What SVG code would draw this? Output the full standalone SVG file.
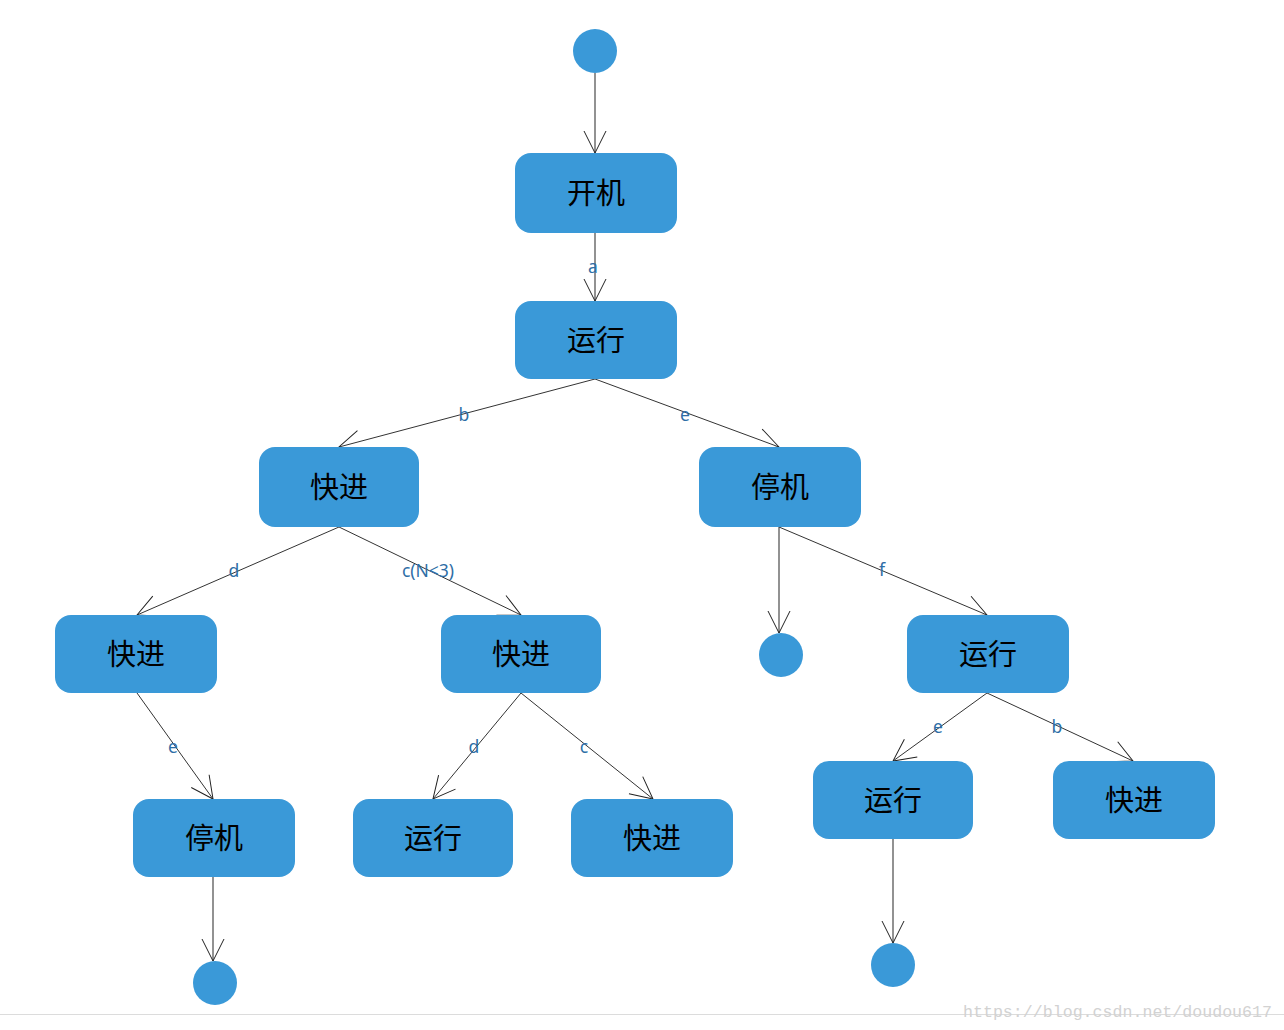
<svg xmlns="http://www.w3.org/2000/svg" width="1284" height="1030" viewBox="0 0 1284 1030">
<defs>
<style>
.n{fill:#3a99d8}
.t{font-family:"Noto Sans CJK SC","Noto Sans",sans-serif;font-size:29px;fill:#000;text-anchor:middle;dominant-baseline:central}
.e{stroke:#333;stroke-width:1;fill:none;marker-end:url(#ah)}
.v{stroke:#777;stroke-width:1.6;fill:none;marker-end:url(#ah)}
.l{font-family:"Noto Sans","DejaVu Sans",sans-serif;font-size:17.5px;fill:#2e6ea6;text-anchor:middle}
</style>
<marker id="ah" markerUnits="userSpaceOnUse" markerWidth="30" markerHeight="30" refX="22" refY="11" orient="auto" overflow="visible">
<path d="M0,0 L22,11 L0,22" fill="none" stroke="#222" stroke-width="1"/>
</marker>
</defs>
<rect width="1284" height="1030" fill="#fff"/>
<g id="connectors">
<line class="v" x1="595" y1="73" x2="595" y2="153"/>
<line class="v" x1="595" y1="233" x2="595" y2="301"/>
<line class="e" x1="595" y1="379" x2="339" y2="447"/>
<line class="e" x1="595" y1="379" x2="779" y2="447"/>
<line class="e" x1="339" y1="527" x2="137" y2="615"/>
<line class="e" x1="339" y1="527" x2="521" y2="615"/>
<line class="v" x1="779" y1="527" x2="779" y2="633"/>
<line class="e" x1="779" y1="527" x2="987" y2="615"/>
<line class="e" x1="137" y1="693" x2="213" y2="799"/>
<line class="e" x1="521" y1="693" x2="433" y2="799"/>
<line class="e" x1="521" y1="693" x2="653" y2="799"/>
<line class="e" x1="987" y1="693" x2="893" y2="761"/>
<line class="e" x1="987" y1="693" x2="1133" y2="761"/>
<line class="v" x1="893" y1="839" x2="893" y2="943"/>
<line class="v" x1="213" y1="877" x2="213" y2="961"/>
<text class="l" x="593" y="273">a</text>
<text class="l" x="464" y="421">b</text>
<text class="l" x="685" y="421">e</text>
<text class="l" x="234" y="577">d</text>
<text class="l" x="428" y="577">c(N&lt;3)</text>
<text class="l" x="882" y="576">f</text>
<text class="l" x="173" y="753">e</text>
<text class="l" x="474" y="753">d</text>
<text class="l" x="584" y="753">c</text>
<text class="l" x="938" y="733">e</text>
<text class="l" x="1057" y="733">b</text>
</g>
<g id="start"><circle class="n" cx="595" cy="51" r="22"/></g>
<g id="kaiji"><rect class="n" x="515" y="153" width="162" height="80" rx="16"/><text class="t" x="596" y="191">开机</text></g>
<g id="yunxing1"><rect class="n" x="515" y="301" width="162" height="78" rx="16"/><text class="t" x="596" y="338">运行</text></g>
<g id="kuaijin1"><rect class="n" x="259" y="447" width="160" height="80" rx="16"/><text class="t" x="339" y="485">快进</text></g>
<g id="tingji1"><rect class="n" x="699" y="447" width="162" height="80" rx="16"/><text class="t" x="780" y="485">停机</text></g>
<g id="kuaijin2a"><rect class="n" x="55" y="615" width="162" height="78" rx="16"/><text class="t" x="136" y="652">快进</text></g>
<g id="kuaijin2b"><rect class="n" x="441" y="615" width="160" height="78" rx="16"/><text class="t" x="521" y="652">快进</text></g>
<g id="end1"><circle class="n" cx="781" cy="655" r="22"/></g>
<g id="yunxing2"><rect class="n" x="907" y="615" width="162" height="78" rx="16"/><text class="t" x="988" y="652">运行</text></g>
<g id="tingji3"><rect class="n" x="133" y="799" width="162" height="78" rx="16"/><text class="t" x="214" y="836">停机</text></g>
<g id="yunxing3"><rect class="n" x="353" y="799" width="160" height="78" rx="16"/><text class="t" x="433" y="836">运行</text></g>
<g id="kuaijin3"><rect class="n" x="571" y="799" width="162" height="78" rx="16"/><text class="t" x="652" y="836">快进</text></g>
<g id="yunxing3b"><rect class="n" x="813" y="761" width="160" height="78" rx="16"/><text class="t" x="893" y="798">运行</text></g>
<g id="kuaijin3c"><rect class="n" x="1053" y="761" width="162" height="78" rx="16"/><text class="t" x="1134" y="798">快进</text></g>
<g id="end2"><circle class="n" cx="893" cy="965" r="22"/></g>
<g id="end3"><circle class="n" cx="215" cy="983" r="22"/></g>
<line x1="0" y1="1014.5" x2="1284" y2="1014.5" stroke="#dcdcdc" stroke-width="1"/>
<text x="963" y="1017" font-family="Liberation Mono, monospace" font-size="17" fill="#d2d2d2" textLength="309" lengthAdjust="spacingAndGlyphs">https://blog.csdn.net/doudou617</text>
</svg>
